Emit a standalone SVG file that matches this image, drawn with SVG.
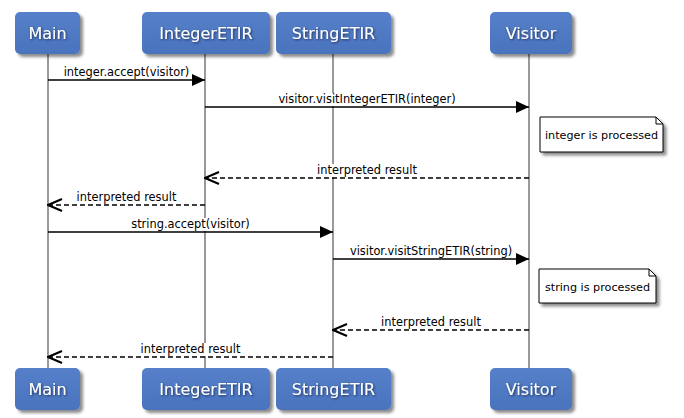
<svg xmlns="http://www.w3.org/2000/svg" width="684" height="418" viewBox="0 0 684 418">
<defs>
<filter id="sh" x="-20%" y="-20%" width="150%" height="160%">
<feDropShadow dx="3" dy="3" stdDeviation="1.8" flood-color="#000" flood-opacity="0.45"/>
</filter>
<filter id="tsh" x="-10%" y="-20%" width="130%" height="160%">
<feDropShadow dx="1" dy="1" stdDeviation="0.8" flood-color="#1a2a50" flood-opacity="0.9"/>
</filter>
<linearGradient id="bg" x1="0" y1="0" x2="0" y2="1">
<stop offset="0" stop-color="#5580c9"/>
<stop offset="1" stop-color="#4a73bd"/>
</linearGradient>
<marker id="fa" viewBox="0 0 13 12" refX="13" refY="6" markerWidth="13" markerHeight="12" markerUnits="userSpaceOnUse" orient="auto">
<path d="M0,0 L13,6 L0,12 Z" fill="#000"/>
</marker>
<marker id="oa" viewBox="0 0 16 14" refX="15" refY="7" markerWidth="16" markerHeight="14" markerUnits="userSpaceOnUse" orient="auto">
<path d="M1,1 L15,7 L1,13" fill="none" stroke="#000" stroke-width="2"/>
</marker>
</defs>
<style>
.life{stroke:#999;stroke-width:2}
.box{fill:url(#bg);filter:url(#sh)}
.bt{font-family:"DejaVu Sans",Verdana,sans-serif;font-size:16px;fill:#fff;text-anchor:middle;filter:url(#tsh)}
.msg{stroke:#000;stroke-width:1.6;fill:none;marker-end:url(#fa)}
.ret{stroke:#000;stroke-width:1.6;fill:none;stroke-dasharray:5 3;marker-end:url(#oa)}
.lbl{font-family:"DejaVu Sans",Verdana,sans-serif;font-size:11.4px;fill:#000;text-anchor:middle}
.lbg{fill:#fff}
.note{fill:#fff;stroke:#000;stroke-width:1;filter:url(#sh)}
.nt{font-family:"DejaVu Sans",Verdana,sans-serif;font-size:11.2px;fill:#000;text-anchor:middle}
</style>
<rect width="684" height="418" fill="#fff"/>
<g id="lifelines">
<line class="life" x1="48" y1="54" x2="48" y2="368"/>
<line class="life" x1="205" y1="54" x2="205" y2="368"/>
<line class="life" x1="333" y1="54" x2="333" y2="368"/>
<line class="life" x1="529" y1="54" x2="529" y2="368"/>
</g>
<g id="connectors">
<rect class="lbg" x="62" y="66" width="129" height="13"/>
<text class="lbl" x="126.5" y="76">integer.accept(visitor)</text>
<line class="msg" x1="48" y1="80" x2="205" y2="80"/>
<rect class="lbg" x="276" y="93" width="182" height="13"/>
<text class="lbl" x="367" y="103">visitor.visitIntegerETIR(integer)</text>
<line class="msg" x1="205" y1="107" x2="529" y2="107"/>
<rect class="lbg" x="314" y="164" width="106" height="13"/>
<text class="lbl" x="367" y="174">interpreted result</text>
<line class="ret" x1="529" y1="178" x2="205" y2="178"/>
<rect class="lbg" x="74" y="191" width="106" height="13"/>
<text class="lbl" x="126.5" y="201">interpreted result</text>
<line class="ret" x1="205" y1="205" x2="48" y2="205"/>
<rect class="lbg" x="129" y="218" width="123" height="13"/>
<text class="lbl" x="190.5" y="228">string.accept(visitor)</text>
<line class="msg" x1="48" y1="232" x2="333" y2="232"/>
<rect class="lbg" x="346" y="245" width="170" height="13"/>
<text class="lbl" x="431" y="255">visitor.visitStringETIR(string)</text>
<line class="msg" x1="333" y1="259" x2="529" y2="259"/>
<rect class="lbg" x="378" y="316" width="106" height="13"/>
<text class="lbl" x="431" y="326">interpreted result</text>
<line class="ret" x1="529" y1="330" x2="333" y2="330"/>
<rect class="lbg" x="138" y="343" width="106" height="13"/>
<text class="lbl" x="190.5" y="353">interpreted result</text>
<line class="ret" x1="333" y1="357" x2="48" y2="357"/>
</g>
<g id="note1">
<path class="note" d="M540,117 H656 L663,124 V152 H540 Z"/>
<path d="M656,117 V124 H663" fill="none" stroke="#000" stroke-width="1"/>
<text class="nt" x="601.5" y="139">integer is processed</text>
</g>
<g id="note2">
<path class="note" d="M539,269 H649 L656,276 V303 H539 Z"/>
<path d="M649,269 V276 H656" fill="none" stroke="#000" stroke-width="1"/>
<text class="nt" x="597.5" y="291">string is processed</text>
</g>
<g id="main-top"><rect class="box" x="15" y="12" width="65" height="42" rx="5"/><text class="bt" x="47.5" y="39">Main</text></g>
<g id="integeretir-top"><rect class="box" x="142" y="12" width="128" height="42" rx="5"/><text class="bt" x="206" y="39">IntegerETIR</text></g>
<g id="stringetir-top"><rect class="box" x="276" y="12" width="115" height="42" rx="5"/><text class="bt" x="333.5" y="39">StringETIR</text></g>
<g id="visitor-top"><rect class="box" x="490" y="12" width="82" height="42" rx="5"/><text class="bt" x="531" y="39">Visitor</text></g>
<g id="main-bottom"><rect class="box" x="15" y="368" width="65" height="42" rx="5"/><text class="bt" x="47.5" y="395">Main</text></g>
<g id="integeretir-bottom"><rect class="box" x="142" y="368" width="128" height="42" rx="5"/><text class="bt" x="206" y="395">IntegerETIR</text></g>
<g id="stringetir-bottom"><rect class="box" x="276" y="368" width="115" height="42" rx="5"/><text class="bt" x="333.5" y="395">StringETIR</text></g>
<g id="visitor-bottom"><rect class="box" x="490" y="368" width="82" height="42" rx="5"/><text class="bt" x="531" y="395">Visitor</text></g>
</svg>
